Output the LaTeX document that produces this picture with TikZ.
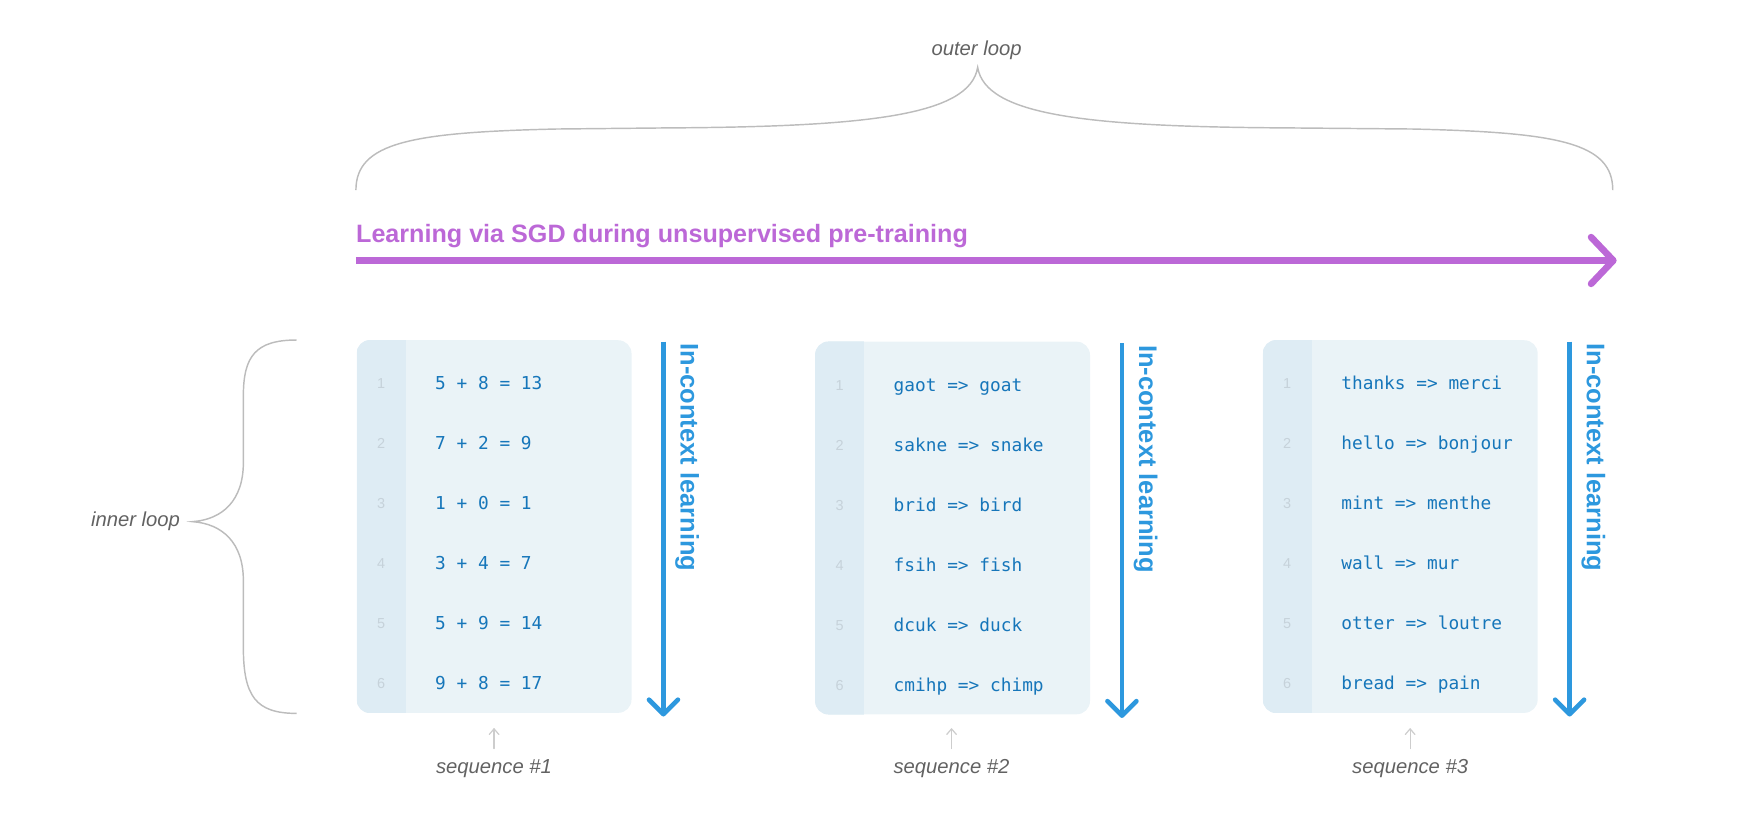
\documentclass[tikz,border=0pt]{standalone}
\usepackage{fontspec}
\setmainfont{Liberation Sans}
\newfontfamily\codefont{DejaVu Sans Mono}
\usetikzlibrary{calc}
\definecolor{sgdpurple}{RGB}{188,104,215}
\definecolor{icblue}{RGB}{45,152,222}
\definecolor{codeblue}{RGB}{22,118,186}
\definecolor{boxfill}{RGB}{234,243,247}
\definecolor{stripfill}{RGB}{222,236,244}
\definecolor{numgray}{RGB}{198,210,218}
\definecolor{bracegray}{RGB}{188,188,188}
\definecolor{labelgray}{RGB}{98,98,98}
\definecolor{seqarrowgray}{RGB}{205,205,205}
\tikzset{
  seqbox/.style={fill=boxfill, rounded corners=12pt, inner sep=0pt, anchor=north west,
    minimum width=247pt, minimum height=335pt},
  codeline/.style={anchor=base west, inner sep=0pt, text=codeblue,
    font=\codefont\fontsize{16}{19}\selectfont},
  linenum/.style={anchor=base, inner sep=0pt, text=numgray,
    font=\fontsize{13}{15}\selectfont},
  bracestyle/.style={draw=bracegray, line width=1.3pt},
  looplabel/.style={inner sep=0pt, text=labelgray,
    font=\itshape\fontsize{18.2}{22}\selectfont},
  icshaft/.style={draw=icblue, line width=4.2pt},
  ichead/.style={draw=icblue, line width=4.2pt, line cap=round, line join=round},
  ictext/.style={rotate=-90, anchor=base west, inner sep=0pt, text=icblue,
    font=\bfseries\fontsize{22.9}{27}\selectfont},
  sgdline/.style={draw=sgdpurple, line width=6pt},
  sgdhead/.style={draw=sgdpurple, line width=6pt, line cap=round, line join=round},
  sgdtext/.style={anchor=base west, inner sep=0pt, text=sgdpurple,
    font=\bfseries\fontsize{22.6}{27}\selectfont},
  seqarr/.style={draw=seqarrowgray, line width=1.1pt, line cap=round, line join=round},
}
% #1 name, #2 left x, #3 top y, #4 list of code lines
\newcommand\drawseqbox[4]{%
  \node[seqbox] (#1) at (#2,#3) {};
  \begin{scope}
    \clip[rounded corners=12pt] (#1.north west) rectangle (#1.south east);
    \fill[stripfill] (#1.north west) rectangle ([xshift=44pt]#1.south west);
  \end{scope}
  \foreach \t [count=\i] in {#4} {
    \node[codeline] (#1-l\i) at ($(#1.north west)+(70.5,{44.85+(\i-1)*53.95})$) {\t};
    \node[linenum] (#1-n\i) at ($(#1.north west)+(22,{43.7+(\i-1)*53.95})$) {\i};
  }
  % in-context learning arrow
  \coordinate (#1-at) at ($(#1.north east)+(28.5,1.5)$);
  \coordinate (#1-ab) at ($(#1.south east)+(28.5,1)$);
  \draw[icshaft] (#1-at) -- (#1-ab);
  \draw[ichead] ($(#1-ab)+(-13,-13)$) -- (#1-ab) -- ($(#1-ab)+(13,-13)$);
  \node[ictext] (#1-ic) at ($(#1-at)+(15.5,1.5)$) {In-context learning};
}
\begin{document}
\begin{tikzpicture}[x=1pt,y=-1pt]
\useasboundingbox (0,0) rectangle (1568,733.6);

% outer loop label and brace
\node[looplabel, anchor=base] (outer) at (878,49.5) {outer loop};
\draw[bracestyle] (320,171) .. controls (320,128) and (370,119) .. (500,116)
  -- (600,115) .. controls (780,114) and (872,104) .. (879,60.5)
  .. controls (886,104) and (978,114) .. (1158,115)
  -- (1270,116) .. controls (1400,119) and (1450,128) .. (1450,171);

% SGD arrow
\node[sgdtext] (sgd) at (320,217.9) {Learning via SGD during unsupervised pre-training};
\coordinate (sgdA) at (320,234.2);
\coordinate (sgdB) at (1450.5,234.2);
\draw[sgdline] (sgdA) -- (sgdB);
\draw[sgdhead] ($(sgdB)+(-20,-21)$) -- (sgdB) -- ($(sgdB)+(-20,21)$);

% inner loop label and brace
\node[looplabel, anchor=base east] (inner) at (162,473.5) {inner loop};
\draw[bracestyle] (266.7,305.7) .. controls (230,305.7) and (218.8,320) .. (218.8,356)
  -- (218.8,416) .. controls (218.8,450) and (200,467) .. (173.2,469)
  .. controls (200,471) and (218.8,488) .. (218.8,522)
  -- (218.8,582) .. controls (218.8,626) and (230,641.4) .. (266.7,641.4);

% sequence boxes
\drawseqbox{s1}{320.6}{305.7}{5 + 8 = 13, 7 + 2 = 9, 1 + 0 = 1, 3 + 4 = 7, 5 + 9 = 14, 9 + 8 = 17}
\drawseqbox{s2}{732.8}{307}{gaot => goat, sakne => snake, brid => bird, fsih => fish, dcuk => duck, cmihp => chimp}
\drawseqbox{s3}{1135.3}{305.7}{thanks => merci, hello => bonjour, mint => menthe, wall => mur, otter => loutre, bread => pain}

% sequence labels
\foreach \nm/\x/\lab in {q1/444.2/1, q2/855.5/2, q3/1267.8/3} {
  \coordinate (\nm-b) at (\x,673);
  \coordinate (\nm-t) at (\x,655.3);
  \draw[seqarr] (\nm-b) -- (\nm-t);
  \draw[seqarr] ($(\nm-t)+(-4.3,5)$) -- (\nm-t) -- ($(\nm-t)+(4.3,5)$);
  \node[looplabel, anchor=base] (\nm) at (\x,695.3) {sequence \#\lab};
}
\end{tikzpicture}
\end{document}
